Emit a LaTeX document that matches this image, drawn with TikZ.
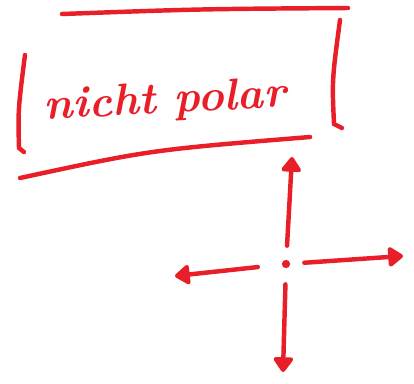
\documentclass[tikz,border=0pt]{standalone}
\usepackage{tikz}
\usetikzlibrary{arrows.meta}

\definecolor{pen}{RGB}{232,30,40}

\begin{document}
\begin{tikzpicture}[x=0.03cm, y=-0.03cm, pen/.style={draw=pen, line width=3.8pt, line cap=round},
    arr/.style={pen, -{Triangle[round, length=14pt, width=19pt]}}]
    \useasboundingbox (0,0) rectangle (414,383);
    % box around the label
    \draw[pen] (62,14) .. controls (200,9) .. (348,8);
    \draw[pen] (25,55) .. controls (18,110) .. (19,148) -- (24,152);
    \draw[pen] (340,20) .. controls (332,80) .. (334,124) -- (342,128);
    \draw[pen] (20,178) .. controls (150,150) .. (310,137);
    \node[text=pen, font=\fontsize{38}{46}\selectfont\bfseries\itshape, rotate=3] (lbl) at (165,102) {nicht polar};
    % the cross
    \node[circle, fill=pen, inner sep=2.5pt] (c) at (286,264) {};
    \coordinate (up) at (292,157);
    \coordinate (lf) at (175,276);
    \coordinate (rt) at (403,256);
    \coordinate (dn) at (283,372);
    \foreach \e/\g in {up/0.42cm, lf/0.72cm, rt/0.42cm, dn/0.48cm} {
        \draw[arr, shorten <=\g] (c) -- (\e);
    }
\end{tikzpicture}
\end{document}
